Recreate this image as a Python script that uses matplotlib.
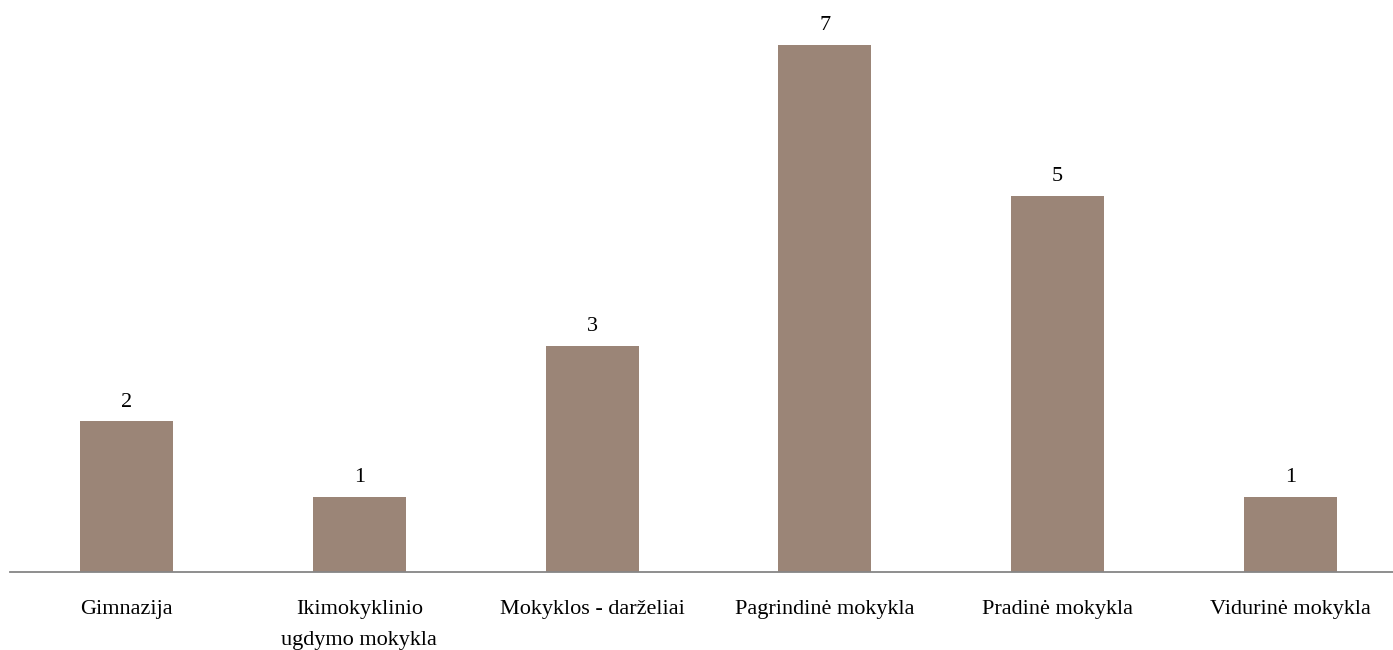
import matplotlib
matplotlib.use('Agg')
import matplotlib.pyplot as plt

categories = ['Gimnazija', 'Ikimokyklinio\nugdymo mokykla', 'Mokyklos - darželiai',
              'Pagrindinė mokykla', 'Pradinė mokykla', 'Vidurinė mokykla']
values = [2, 1, 3, 7, 5, 1]

bar_color = '#9b8577'
font = 'Liberation Serif'

fig = plt.figure(figsize=(13.93, 6.5), dpi=100)
ax = fig.add_axes([10 / 1393, 78 / 650, 1397 / 1393, 572 / 650])

x = range(len(categories))
bars = ax.bar(x, values, width=0.4, color=bar_color)
ax.set_xlim(-0.5, len(categories) - 0.5)
ax.set_ylim(0, 7.6)

for i, v in enumerate(values):
    ax.annotate(str(v), (i, v), xytext=(0, 7), textcoords='offset points',
                ha='center', va='bottom', fontsize=16, family=font)

ax.set_xticks(list(x))
ax.set_xticklabels(categories, fontsize=16, family=font, linespacing=1.9)
ax.tick_params(axis='x', length=0, pad=20)
ax.set_yticks([])
for s in ['top', 'right', 'left']:
    ax.spines[s].set_visible(False)
ax.spines['bottom'].set_color('#868686')
ax.spines['bottom'].set_linewidth(1.3)

fig.savefig('out.png', dpi=100)
